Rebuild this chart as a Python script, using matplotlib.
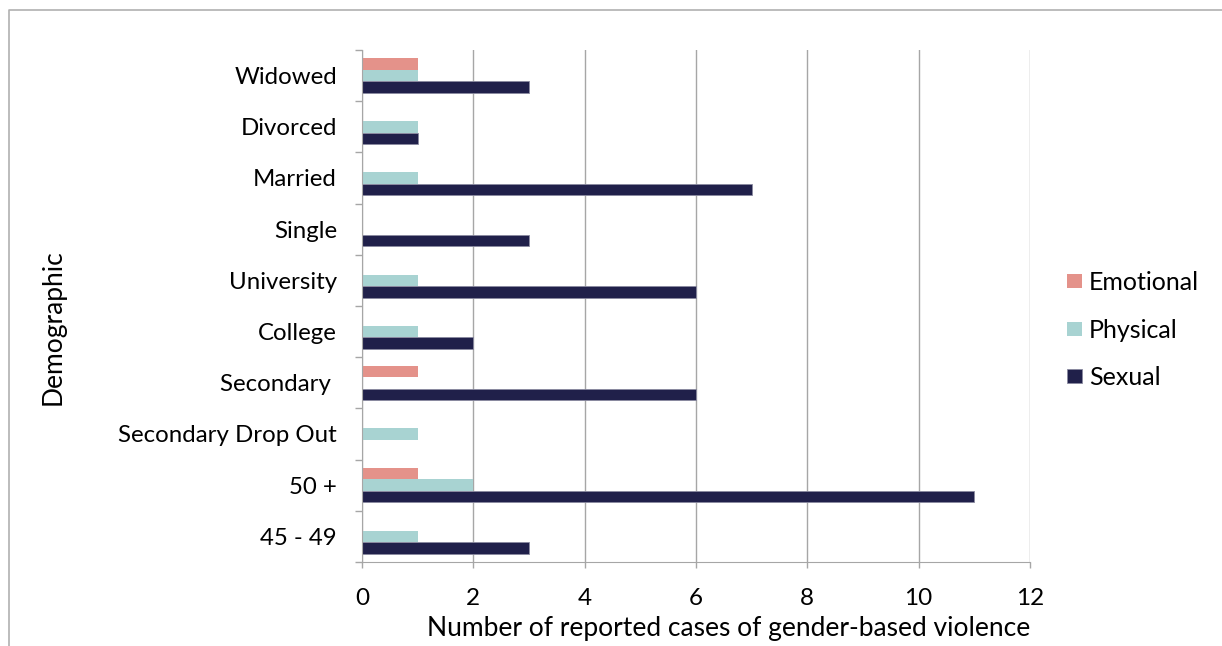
import numpy as np
import matplotlib
matplotlib.use("Agg")
import matplotlib.pyplot as plt
from matplotlib.lines import Line2D

plt.rcParams['font.family'] = ['Lato', 'DejaVu Sans']

# categories listed bottom to top
categories = ['45 - 49', '50 +', 'Secondary Drop Out', 'Secondary ', 'College',
              'University', 'Single', 'Married', 'Divorced', 'Widowed']
emotional = [0, 1, 0, 1, 0, 0, 0, 0, 0, 1]
physical = [1, 2, 1, 0, 1, 1, 0, 1, 1, 1]
sexual = [3, 11, 0, 6, 2, 6, 3, 7, 1, 3]

c_emo = '#E4928A'
c_phy = '#A8D3D2'
c_sex = '#20204A'

fig = plt.figure(figsize=(12.22, 6.46), dpi=100)
ax = fig.add_axes([362/1222, 1 - 562/646, 668/1222, 512/646])

y = np.arange(len(categories))
h = 0.225
ax.barh(y + h, emotional, height=h, color=c_emo, label='Emotional', zorder=3)
ax.barh(y, physical, height=h, color=c_phy, label='Physical', zorder=3)
ax.barh(y - h, sexual, height=h, color=c_sex, label='Sexual', zorder=3,
        edgecolor='#8a8aa0', linewidth=0.6)

ax.set_xlim(0, 12)
ax.set_ylim(-0.5, len(categories) - 0.5)
ax.set_xticks(range(0, 13, 2))
ax.set_yticks(y)
ax.set_yticklabels(categories)
ax.set_yticks(np.arange(-0.5, len(categories)), minor=True)

ax.grid(axis='x', color='#a6a6a6', linewidth=1.0, zorder=0)
for s in ['top', 'right']:
    ax.spines[s].set_visible(False)
ax.spines['left'].set_color('#a6a6a6')
ax.spines['bottom'].set_color('#a6a6a6')
ax.spines['left'].set_zorder(4)

ax.tick_params(axis='y', which='major', length=0, pad=18, labelsize=17.3)
ax.tick_params(axis='y', which='minor', length=5, color='#a6a6a6', width=1)
ax.tick_params(axis='x', length=4.5, color='#a6a6a6', width=1, pad=14, labelsize=17.5)

ax.set_xlabel('Number of reported cases of gender-based violence', fontsize=19)
ax.xaxis.set_label_coords(0.549, -0.105)
ax.set_ylabel('Demographic', fontsize=19)
ax.yaxis.set_label_coords(-0.443, 0.459)

leg = ax.legend(loc='center left', bbox_to_anchor=(1.021, 0.453), frameon=False,
                fontsize=18, handlelength=0.6, handleheight=0.48,
                handletextpad=0.3, labelspacing=0.97)

# outer chart border (cut off at right and bottom)
fig.add_artist(Line2D([9/1222, 9/1222, 1.0], [0.0, 1 - 10/646, 1 - 10/646],
                      transform=fig.transFigure, color='#b0b0b0', linewidth=1.2))

fig.savefig('out.png', dpi=100)
